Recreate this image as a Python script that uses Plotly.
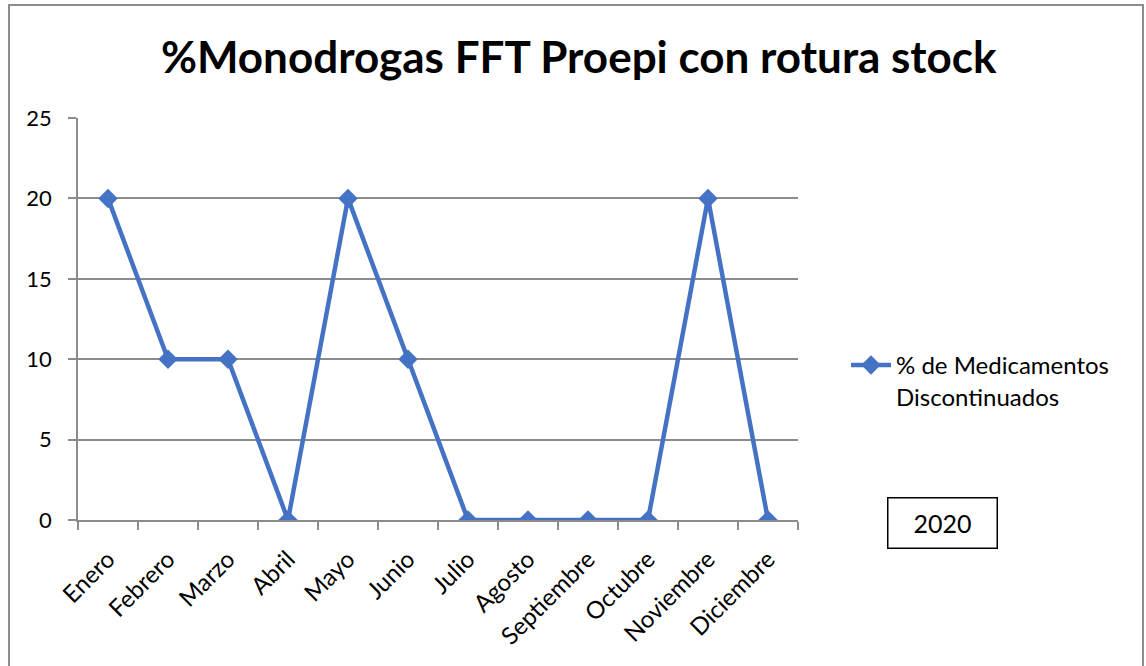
import plotly.graph_objects as go

months = ["Enero", "Febrero", "Marzo", "Abril", "Mayo", "Junio", "Julio",
          "Agosto", "Septiembre", "Octubre", "Noviembre", "Diciembre"]
values = [20, 10, 10, 0, 20, 10, 0, 0, 0, 0, 20, 0]
series_name = "% de Medicamentos<br>Discontinuados"
title_text = "%Monodrogas FFT Proepi con rotura stock"
year_label = "2020"
y_ticks = [0, 5, 10, 15, 20, 25]

FONT = "Lato, Calibri, Carlito, sans-serif"
BLUE = "#4472C4"
GRID = "#8c8c8c"

fig = go.Figure()
fig.add_trace(go.Scatter(
    x=months, y=values, mode="lines+markers", name=series_name,
    line=dict(color=BLUE, width=4.5),
    marker=dict(symbol="diamond", size=15, color=BLUE),
))

W, H = 1146, 666
L, R, T, B = 78, 348, 118, 146
pw = W - L - R
ph = H - T - B

def px_x(px):
    return (px - L) / pw

def px_y(py):
    return (H - B - py) / ph

fig.update_layout(
    width=W, height=H,
    margin=dict(l=L, r=R, t=T, b=B, autoexpand=False),
    paper_bgcolor="white", plot_bgcolor="white",
    font=dict(family=FONT, size=22, color="black"),
    title=dict(text="<b>" + title_text + "</b>", x=0.505, xanchor="center",
               y=1 - 58 / H, yanchor="middle",
               font=dict(family=FONT, size=44, color="black")),
    showlegend=True,
    legend=dict(x=px_x(846), y=px_y(343), xanchor="left", yanchor="top",
                valign="top", font=dict(family=FONT, size=24),
                bgcolor="rgba(0,0,0,0)", itemwidth=40),
    xaxis=dict(type="category", range=[-0.5, 11.5], tickson="boundaries",
               ticks="outside", ticklen=8, tickcolor=GRID, tickwidth=1.5,
               showline=True, linecolor=GRID, linewidth=1.5,
               showgrid=False, tickangle=-45, ticklabelstandoff=14,
               tickfont=dict(family=FONT, size=24)),
    yaxis=dict(range=[0, 25], tickvals=y_ticks, ticks="outside", ticklen=8,
               tickcolor=GRID, tickwidth=1.5, showline=True, linecolor=GRID,
               linewidth=1.5, showgrid=True, gridcolor=GRID, gridwidth=1.5,
               zeroline=False, ticklabelstandoff=12,
               tickfont=dict(family=FONT, size=22)),
)

# year box
fig.add_annotation(text=year_label, xref="paper", yref="paper",
                   x=px_x(942.5), y=px_y(523), xanchor="center", yanchor="middle",
                   showarrow=False, font=dict(family=FONT, size=25, color="black"),
                   bordercolor="black", borderwidth=1.5, width=106, height=47,
                   bgcolor="white")

# outer chart border
fig.add_shape(type="rect", xref="paper", yref="paper",
              x0=px_x(9), x1=px_x(1143), y0=px_y(690), y1=px_y(5),
              line=dict(color="#8c8c8c", width=2), layer="below")

fig.write_html("out.html", config={"displayModeBar": False},
               post_script="document.body.style.margin='0';")
